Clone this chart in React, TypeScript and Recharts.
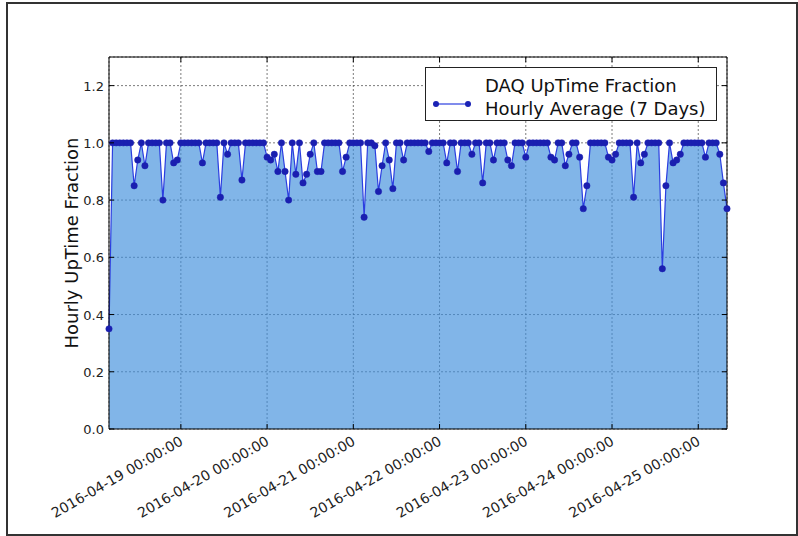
import React from "react";
import {
  AreaChart,
  Area,
  XAxis,
  YAxis,
  CartesianGrid,
  ReferenceArea,
} from "recharts";

const FONT = '"DejaVu Sans", Verdana, sans-serif';

// first hourly sample (UTC)
const startTime = "2016-04-18T04:00:00Z";

// hourly DAQ uptime fraction, one value per hour from startTime
const uptime = [
  0.35, 1, 1, 1, 1, 1, 1, 0.85, 0.94, 1,
  0.92, 1, 1, 1, 1, 0.8, 1, 1, 0.93, 0.94,
  1, 1, 1, 1, 1, 1, 0.93, 1, 1, 1,
  1, 0.81, 1, 0.96, 1, 1, 1, 0.87, 1, 1,
  1, 1, 1, 1, 0.95, 0.94, 0.96, 0.9, 1, 0.9,
  0.8, 1, 0.89, 1, 0.86, 0.89, 0.96, 1, 0.9, 0.9,
  1, 1, 1, 1, 1, 0.9, 0.95, 1, 1, 1,
  1, 0.74, 1, 1, 0.99, 0.83, 0.92, 1, 0.94, 0.84,
  1, 1, 0.94, 1, 1, 1, 1, 1, 1, 0.97,
  1, 1, 1, 1, 0.93, 1, 1, 0.9, 1, 1,
  1, 0.96, 1, 1, 0.86, 1, 1, 0.94, 1, 1,
  1, 0.94, 0.92, 1, 1, 1, 0.95, 1, 1, 1,
  1, 1, 1, 0.95, 0.94, 1, 1, 0.92, 0.96, 1,
  1, 0.95, 0.77, 0.85, 1, 1, 1, 1, 1, 0.95,
  0.94, 0.96, 1, 1, 1, 1, 0.81, 1, 0.93, 0.96,
  1, 1, 1, 1, 0.56, 0.85, 1, 0.93, 0.94, 0.96,
  1, 1, 1, 1, 1, 1, 0.95, 1, 1, 1,
  0.96, 0.86, 0.77,
];

const xTickLabels = [
  "2016-04-19 00:00:00",
  "2016-04-20 00:00:00",
  "2016-04-21 00:00:00",
  "2016-04-22 00:00:00",
  "2016-04-23 00:00:00",
  "2016-04-24 00:00:00",
  "2016-04-25 00:00:00",
];

const yTicks = [0, 0.2, 0.4, 0.6, 0.8, 1.0, 1.2];

const HOUR = 3600 * 1000;
const t0 = Date.parse(startTime);
const data = uptime.map((v, i) => ({ t: t0 + i * HOUR, v }));
const xTicks = xTickLabels.map((s) => Date.parse(s.replace(" ", "T") + "Z"));

const PLOT_H = 372;
const PLOT_W = 618;

function fmtTime(ms: number) {
  const d = new Date(ms);
  const p = (n: number) => String(n).padStart(2, "0");
  return (
    `${d.getUTCFullYear()}-${p(d.getUTCMonth() + 1)}-${p(d.getUTCDate())} ` +
    `${p(d.getUTCHours())}:${p(d.getUTCMinutes())}:${p(d.getUTCSeconds())}`
  );
}

function XTick(props: any) {
  const { x, y, payload } = props;
  return (
    <g>
      <line x1={x} y1={y} x2={x} y2={y - 5} stroke="#000" />
      <line x1={x} y1={y - PLOT_H} x2={x} y2={y - PLOT_H + 5} stroke="#000" />
      <text
        transform={`translate(${x + 3},${y + 15}) rotate(-30)`}
        textAnchor="end"
        fontSize={14}
        fontFamily={FONT}
        fill="#222"
      >
        {fmtTime(payload.value)}
      </text>
    </g>
  );
}

function YTick(props: any) {
  const { x, y, payload } = props;
  return (
    <g>
      <line x1={x} y1={y} x2={x + 5} y2={y} stroke="#000" />
      <line x1={x + PLOT_W} y1={y} x2={x + PLOT_W - 5} y2={y} stroke="#000" />
      <text
        x={x - 5}
        y={y + 5}
        textAnchor="end"
        fontSize={13}
        fontFamily={FONT}
        fill="#222"
      >
        {payload.value.toFixed(1)}
      </text>
    </g>
  );
}

function YLabel(props: any) {
  const { viewBox } = props;
  const cx = viewBox.x + 78;
  const cy = viewBox.y + viewBox.height / 2;
  return (
    <text
      transform={`translate(${cx},${cy}) rotate(-90)`}
      textAnchor="middle"
      fontSize={18}
      fontFamily={FONT}
      fill="#111"
    >
      Hourly UpTime Fraction
    </text>
  );
}

function LegendBox() {
  return (
    <div
      style={{
        position: "absolute",
        left: 425,
        top: 67,
        width: 292,
        height: 54,
        boxSizing: "border-box",
        border: "1px solid #222",
        background: "#fff",
        fontFamily: FONT,
        fontSize: 18,
        color: "#111",
      }}
    >
      <svg width={50} height={50} style={{ position: "absolute", left: 0, top: 0 }}>
        <line x1={10} y1={36} x2={42} y2={36} stroke="#2b3ee0" strokeWidth={1.2} />
        <circle cx={10} cy={36} r={3} fill="#1a22b5" />
        <circle cx={42} cy={36} r={3} fill="#1a22b5" />
      </svg>
      <div style={{ position: "absolute", left: 59, top: 6, lineHeight: "23px", whiteSpace: "nowrap" }}>
        DAQ UpTime Fraction
        <br />
        Hourly Average (7 Days)
      </div>
    </div>
  );
}

export default function App() {
  return (
    <div style={{ position: "absolute", left: 0, top: 0, width: 798, height: 536, background: "#fff" }}>
      <AreaChart
        width={798}
        height={536}
        data={data}
        margin={{ top: 57, right: 71, bottom: 0, left: 0 }}
      >
        <CartesianGrid stroke="#444" strokeWidth={0.7} strokeDasharray="2 2" />
        <XAxis
          dataKey="t"
          type="number"
          domain={["dataMin", "dataMax"]}
          ticks={xTicks}
          interval={0}
          tick={<XTick />}
          tickLine={false}
          axisLine={false}
          tickSize={0}
          tickMargin={0}
          height={107}
        />
        <YAxis
          domain={[0, 1.3]}
          ticks={yTicks}
          interval={0}
          tick={<YTick />}
          tickLine={false}
          axisLine={false}
          tickSize={0}
          tickMargin={0}
          width={109}
          label={<YLabel />}
        />
        <Area
          type="linear"
          dataKey="v"
          baseValue={0}
          stroke="#2b3ee0"
          strokeWidth={1.2}
          fill="#3d8ddb"
          fillOpacity={0.65}
          dot={{ r: 3.2, fill: "#1a1fb0", fillOpacity: 1, stroke: "#1a1fb0", strokeWidth: 0.5 }}
          activeDot={false}
          isAnimationActive={false}
        />
        <ReferenceArea
          x1={data[0].t}
          x2={data[data.length - 1].t}
          y1={0}
          y2={1.3}
          fill="none"
          stroke="#000"
          strokeWidth={1}
        />
      </AreaChart>
      <LegendBox />
      <div
        style={{
          position: "absolute",
          left: 6,
          top: 2,
          width: 792,
          height: 534,
          boxSizing: "border-box",
          border: "2px solid #333",
          pointerEvents: "none",
        }}
      />
    </div>
  );
}
